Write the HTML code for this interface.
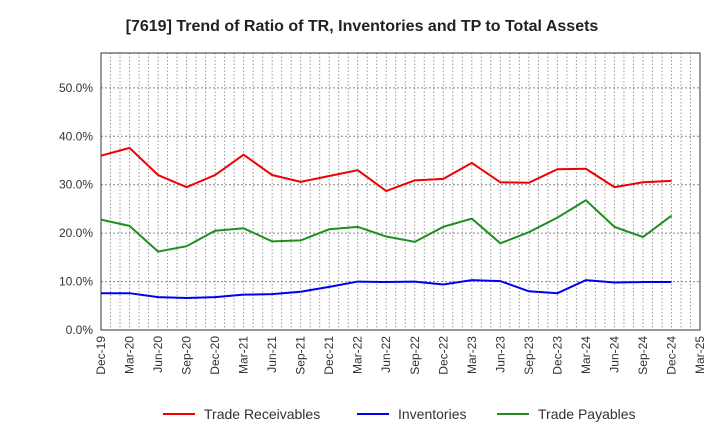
<!DOCTYPE html>
<html><head><meta charset="utf-8"><style>
body{margin:0;background:#fff;font-family:"Liberation Sans",sans-serif;}
</style></head><body>
<svg id="c" width="720" height="440" xmlns="http://www.w3.org/2000/svg">
<text x="362" y="31" text-anchor="middle" font-size="16" font-weight="bold" fill="#222">[7619]  Trend of Ratio of TR, Inventories and TP to Total Assets</text>
<g id="grid"></g><g id="axes"></g><g id="series"></g><g id="legend"></g>
</svg>
<script>
const categories=["Dec-19","Mar-20","Jun-20","Sep-20","Dec-20","Mar-21","Jun-21","Sep-21","Dec-21","Mar-22","Jun-22","Sep-22","Dec-22","Mar-23","Jun-23","Sep-23","Dec-23","Mar-24","Jun-24","Sep-24","Dec-24","Mar-25"];
const tradeReceivables=[36.0,37.6,32.0,29.5,32.0,36.2,32.0,30.6,31.8,33.0,28.7,30.9,31.2,34.5,30.5,30.4,33.2,33.3,29.5,30.5,30.8];
const inventories=[7.6,7.6,6.8,6.6,6.8,7.3,7.4,7.9,8.9,10.0,9.9,10.0,9.4,10.3,10.1,8.0,7.6,10.3,9.8,9.9,9.9];
const tradePayables=[22.8,21.5,16.2,17.3,20.5,21.0,18.3,18.5,20.8,21.3,19.3,18.2,21.3,23.0,17.9,20.2,23.2,26.8,21.3,19.2,23.6];
const yTicks=[0,10,20,30,40,50];
const L=101,R=700,T=53,B=330,YMAX=57.2;
const NS="http://www.w3.org/2000/svg";
const x=i=>L+(R-L)*i/(categories.length-1);
const y=v=>B-(B-T)*v/YMAX;
function mk(tag,attrs,parent){const e=document.createElementNS(NS,tag);for(const k in attrs)e.setAttribute(k,attrs[k]);parent.appendChild(e);return e;}
const grid=document.getElementById('grid'),axes=document.getElementById('axes'),series=document.getElementById('series'),legend=document.getElementById('legend');
for(let m=1;m<(categories.length-1)*3;m++){const xx=L+(R-L)*m/((categories.length-1)*3);
const g=mk('line',{x1:xx,x2:xx,y1:T,y2:B,stroke:'#999','stroke-dasharray':'1.5,2','stroke-width':1},grid);

}
yTicks.forEach(v=>{const yy=y(v);
if(v>0){const g=mk('line',{x1:L,x2:R,y1:yy,y2:yy,stroke:'#888','stroke-dasharray':'2,2','stroke-width':1},grid);

}
const t=mk('text',{x:L-8,y:yy+4,'text-anchor':'end','font-size':12,fill:'#333'},axes);t.textContent=v.toFixed(1)+'%';

});
const fr=mk('rect',{x:L,y:T,width:R-L,height:B-T,fill:'none',stroke:'#333','stroke-width':1},axes);


categories.forEach((c,i)=>{const xx=x(i);
const t=mk('text',{x:xx+4,y:B+6,'text-anchor':'end','font-size':12,fill:'#333',transform:`rotate(-90 ${xx+4} ${B+6})`},axes);t.textContent=c;

});
const sers=[["trade-receivables",tradeReceivables,"#f00000","Trade Receivables"],["inventories",inventories,"#0000f0","Inventories"],["trade-payables",tradePayables,"#1f8f1f","Trade Payables"]];
sers.forEach(([n,d,col])=>{const p=mk('polyline',{points:d.map((v,i)=>x(i)+','+y(v)).join(' '),fill:'none',stroke:col,'stroke-width':2},series);

});
const lx=[163,357,497];
sers.forEach(([n,d,col,lab],k)=>{const g=mk('g',{},legend);


mk('line',{x1:lx[k],x2:lx[k]+32,y1:414,y2:414,stroke:col,'stroke-width':2},g);
const t=mk('text',{x:lx[k]+41,y:419,'font-size':14,fill:'#333'},g);t.textContent=lab;});
</script>
</body></html>
